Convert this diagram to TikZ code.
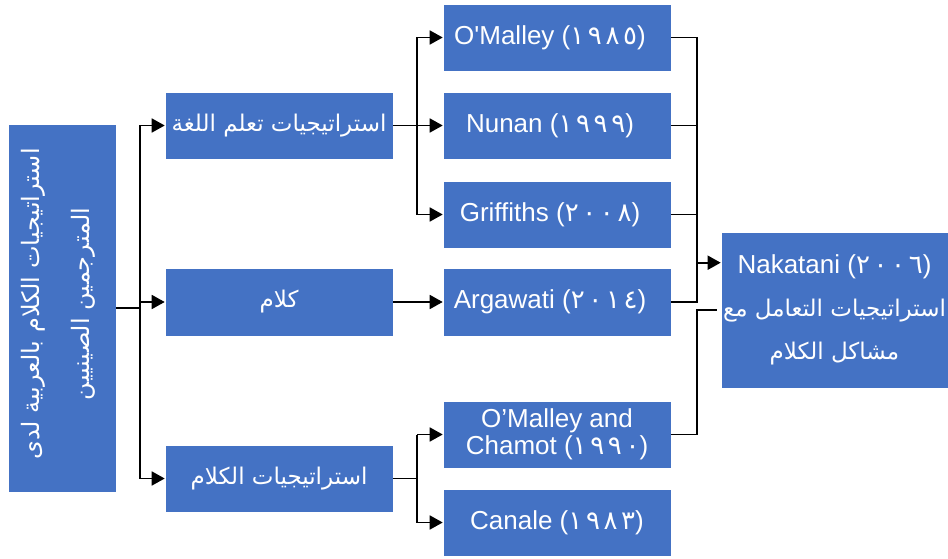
\documentclass[tikz,border=0pt]{standalone}
\usepackage{fontspec}
\setmainfont{Liberation Sans}
\newfontfamily\lsans{Liberation Sans}
\newfontfamily\arabicfont[Script=Arabic]{DejaVu Sans}
\newfontfamily\digfont[LetterSpace=14]{DejaVu Sans}
\TeXXeTstate=1
\usetikzlibrary{arrows.meta,calc}
\definecolor{boxblue}{RGB}{68,114,196}
\newcommand{\latsz}{\fontsize{26}{30}\selectfont}
\newcommand{\arsz}{\fontsize{23}{30}\selectfont}
\newcommand{\ar}[1]{{\arabicfont\arsz\beginR #1\endR}}
\newcommand{\dg}[1]{({\digfont #1})}
\newcommand{\sq}{{\lsans '}}
\begin{document}
\begin{tikzpicture}[x=1pt,y=-1pt,
  box/.style={fill=boxblue,draw=white,line width=0.6pt,text=white,inner sep=0pt,
    minimum width=228,minimum height=67,font=\latsz},
  conn/.style={line width=1.8pt,black},
  arr/.style={conn,-{Triangle[length=13pt,width=14pt]}}]
\useasboundingbox (0,0) rectangle (948,559);
\fill[white] (0,0) rectangle (948,559);
% left box
\node[box,minimum width=108,minimum height=368] (L) at (62,308) {};
\node[rotate=90,text=white,align=center,inner sep=0pt,font=\arabicfont\fontsize{24}{50}\selectfont] (Lt) at ([xshift=-4pt,yshift=4pt]L.center)
  {\beginR استراتيجيات الكلام بالعربية لدى\endR\\ \beginR المترجمين الصينيين\endR};
% middle column
\node[box] (b1) at (279,125.5) {\ar{استراتيجيات تعلم اللغة}};
\node[box,minimum height=68] (b2) at (279,302) {\ar{كلام}};
\node[box] (b3) at (279,478.5) {\ar{استراتيجيات الكلام}};
% right column
\node[box] (r1) at (557,37.5) {\hspace*{-14pt}O\sq Malley \dg{١٩٨٥}};
\node[box] (r2) at (557,125.5) {\hspace*{-14pt}Nunan \dg{١٩٩٩}};
\node[box] (r3) at (557,214.5) {\hspace*{-14pt}Griffiths \dg{٢٠٠٨}};
\node[box,minimum height=68] (r4) at (557,302) {\hspace*{-14pt}Argawati \dg{٢٠١٤}};
\node[box,align=center,font=\fontsize{26}{27}\selectfont] (r5) at (557,434.5) {O’Malley and\\Chamot \dg{١٩٩٠}};
\node[box] (r6) at (557,522.5) {Canale \dg{١٩٨٣}};
% Nakatani
\node[box,minimum width=227,minimum height=156,align=center,font=\fontsize{26}{43}\selectfont] (nk) at (834.5,310)
  {Nakatani \dg{٢٠٠٦}\\ \ar{استراتيجيات التعامل مع}\\ \ar{مشاكل الكلام}};
% connectors left
\draw[conn] (L.east) -- ++(24,0) coordinate (j1);
\draw[conn] (j1 |- b1.west) -- (j1 |- b3.west);
\draw[arr] (j1 |- b1.west) -- (b1.west);
\draw[arr] (j1 |- b2.west) -- (b2.west);
\draw[arr] (j1 |- b3.west) -- (b3.west);
% b1 group
\draw[conn] (b1.east) -- ++(24,0) coordinate (j2);
\draw[conn] (j2 |- r1.west) -- (j2 |- r3.west);
\draw[arr] (j2 |- r1.west) -- (r1.west);
\draw[arr] (j2 |- r2.west) -- (r2.west);
\draw[arr] (j2 |- r3.west) -- (r3.west);
% b2
\draw[arr] (b2.east) -- (r4.west);
% b3 group
\draw[conn] (b3.east) -- ++(24,0) coordinate (j3);
\draw[conn] (j3 |- r5.west) -- (j3 |- r6.west);
\draw[arr] (j3 |- r5.west) -- (r5.west);
\draw[arr] (j3 |- r6.west) -- (r6.west);
% right bracket
\coordinate (j4) at ($(r1.east)+(26,0)$);
\draw[conn] (r1.east) -- (j4 |- r1.east) -- (j4 |- r4.east) -- (r4.east);
\draw[conn] (r2.east) -- (j4 |- r2.east);
\draw[conn] (r3.east) -- (j4 |- r3.east);
\coordinate (na) at ($(nk.north west)+(0,31)$);
\draw[arr] (j4 |- na) -- (na);
\draw[conn] (r5.east) -- (j4 |- r5.east) -- (j4 |- nk.west) -- ([xshift=-4pt]nk.west);
\end{tikzpicture}
\end{document}
